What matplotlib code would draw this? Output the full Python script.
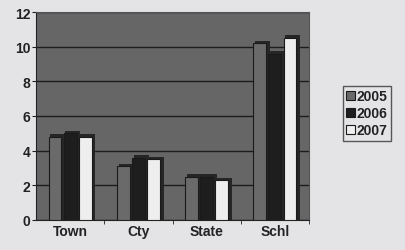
import matplotlib
matplotlib.use("Agg")
import matplotlib.pyplot as plt
import numpy as np

plt.rcParams['font.family'] = ['Liberation Sans', 'DejaVu Sans']

categories = ['Town', 'Cty', 'State', 'Schl']
years = ['2005', '2006', '2007']
v2005 = [4.8, 3.1, 2.5, 10.2]
v2006 = [5.0, 3.6, 2.5, 9.6]
v2007 = [4.8, 3.5, 2.3, 10.5]
yticks = [0, 2, 4, 6, 8, 10, 12]

colors = ['#6a6a6a', '#1e1e1e', '#eeeeee']

fig = plt.figure(figsize=(4.05, 2.51), dpi=100)
fig.patch.set_facecolor('#e4e4e6')
ax = fig.add_axes([36/405, 30/251, 273/405, 208/251])
ax.set_facecolor('#666666')

x = np.arange(len(categories))
w = 0.22
for i, (vals, c) in enumerate(zip([v2005, v2006, v2007], colors)):
    # dark depth block behind each bar
    ax.bar(x + (i - 1) * w + 0.04, np.array(vals) + 0.15, w, color='#262626',
           zorder=2)
    ax.bar(x + (i - 1) * w, vals, w * 0.85, color=c, edgecolor='#1a1a1a',
           linewidth=0.8, zorder=3, label=years[i])

ax.set_xlim(-0.5, 3.5)
ax.set_ylim(0, 12)
ax.set_yticks(yticks)
ax.set_xticks(x)
ax.set_xticklabels(categories, fontsize=10, fontweight='bold', color='#222222')
ax.set_yticklabels([str(t) for t in yticks], fontsize=10, fontweight='bold',
                   color='#222222')
ax.set_xticks(np.arange(0.5, 3.6, 1), minor=True)
ax.tick_params(axis='x', which='major', length=0, pad=3)
ax.tick_params(axis='x', which='minor', length=3, color='#222222')
ax.tick_params(axis='y', length=3, pad=1, color='#222222')
ax.yaxis.grid(True, color='#1c1c1c', linewidth=1.0, zorder=1)
ax.set_axisbelow(True)
for s in ['top', 'right']:
    ax.spines[s].set_color('#555555')
ax.spines['left'].set_color('#222222')
ax.spines['bottom'].set_color('#222222')

handles, labels = ax.get_legend_handles_labels()
leg = fig.legend(handles[-3:], labels[-3:], loc='upper left',
                 bbox_to_anchor=(343/405, 1 - 87/251), frameon=True,
                 prop={'size': 10, 'weight': 'bold'}, handlelength=0.6,
                 handleheight=0.6, handletextpad=0.15, borderpad=0.25,
                 labelspacing=0.2, fancybox=False, borderaxespad=0)
leg.get_frame().set_edgecolor('#333333')
leg.get_frame().set_facecolor('#e4e4e6')
for t in leg.get_texts():
    t.set_color('#222222')

fig.savefig('out.png', dpi=100, facecolor=fig.get_facecolor())
